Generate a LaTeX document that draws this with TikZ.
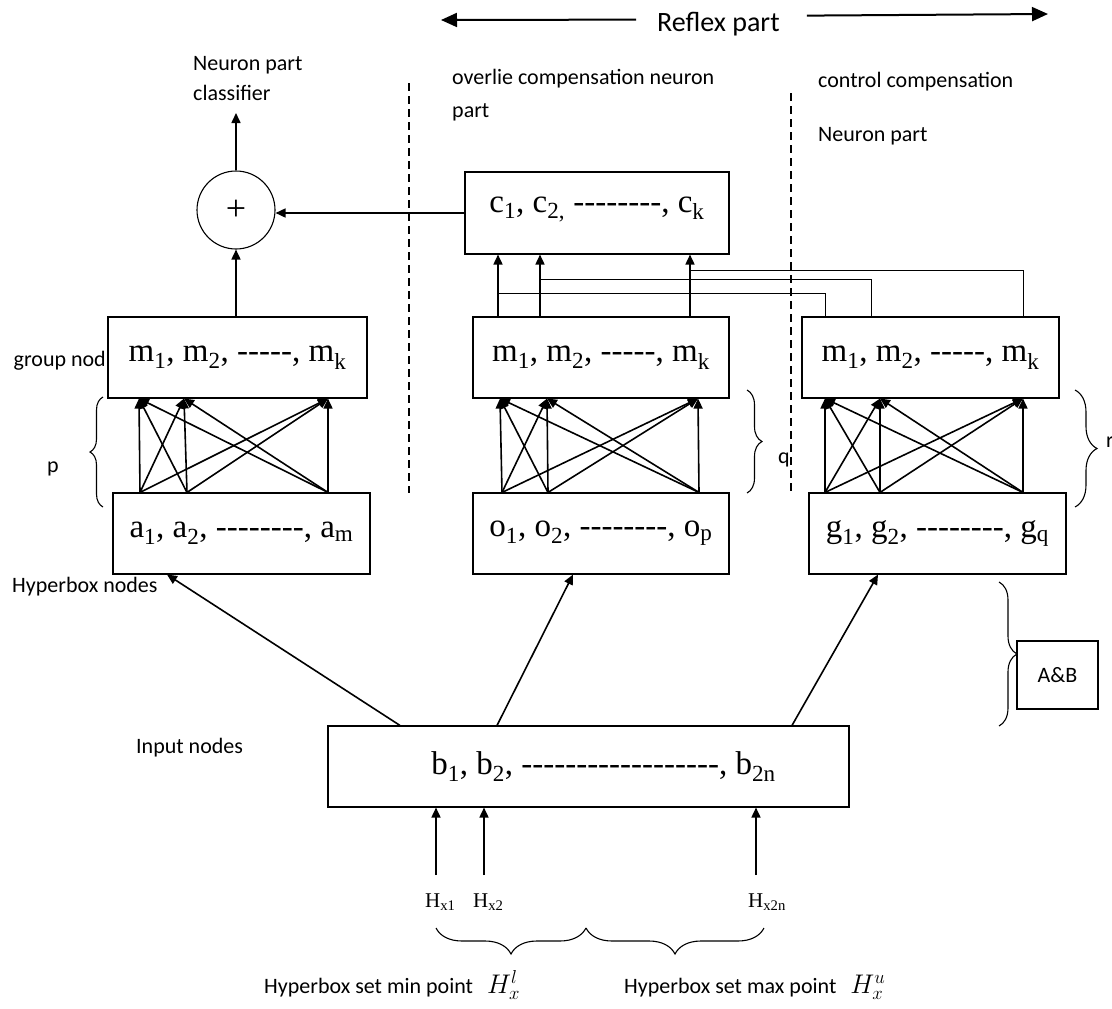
\documentclass[tikz,border=0pt]{standalone}
\usepackage{graphicx}
\usepackage{fontspec}
\setmainfont{Liberation Serif}
\newfontfamily\calib{Carlito}
\usetikzlibrary{arrows.meta, calc, decorations.pathreplacing}

\newcommand{\dashes}[1]{\foreach \k in {1,...,#1}{\mbox{-}}}

\begin{document}
\begin{tikzpicture}[x=1pt, y=-1pt,
  box/.style={draw, line width=1.1pt, inner sep=0pt, font=\fontsize{33}{38}\selectfont},
  lbl/.style={anchor=base west, inner sep=0pt, font=\calib\fontsize{22}{26}\selectfont},
  hlab/.style={anchor=base west, inner sep=0pt, font=\fontsize{21}{24}\selectfont},
  link/.style={-{Triangle[length=10pt,width=9pt]}, line width=1.6pt},
  bigarrow/.style={-{Triangle[length=16pt,width=14pt]}, line width=2pt},
  wire/.style={line width=1pt},
  brc/.style={decorate, decoration={brace, amplitude=#1}, line width=1.1pt},
  divider/.style={dash pattern=on 8pt off 5pt, line width=1.2pt}]
\useasboundingbox (0,0) rectangle (1112,1009);

% title
\node[lbl, font=\calib\fontsize{28}{32}\selectfont] (reflex) at (657,31) {Reflex part};
\coordinate (rfL) at (441,20);
\coordinate (rfR) at (1048,14);
\draw[bigarrow] ([xshift=-21pt,yshift=4pt]reflex.west) -- (rfL);
\draw[bigarrow] ([xshift=27pt,yshift=8pt]reflex.east) -- (rfR);

% part labels
\node[lbl] (npc1) at (193,70) {Neuron part};
\node[lbl] (npc2) at (193,100) {classifier};
\node[lbl] (ov1) at (452,84) {overlie compensation neuron};
\node[lbl] (ov2) at (452,117) {part};
\node[lbl] (cc1) at (818,87) {control compensation};
\node[lbl] (cc2) at (818,141) {Neuron part};
\draw[divider] (409,83) -- (409,493);
\draw[divider] (791,93) -- (791,493);

% boxes
\node[box, minimum width=259, minimum height=81] (mL) at (237.5,357.5) {m\textsubscript{1}, m\textsubscript{2}, \dashes{5}, m\textsubscript{k}};
\node[box, minimum width=257, minimum height=81] (aB) at (241.5,533.5) {a\textsubscript{1}, a\textsubscript{2}, \dashes{8}, a\textsubscript{m}};
\node[box, minimum width=256, minimum height=81] (mM) at (601,357.5) {m\textsubscript{1}, m\textsubscript{2}, \dashes{5}, m\textsubscript{k}};
\node[box, minimum width=256, minimum height=81] (oB) at (601,533.5) {o\textsubscript{1}, o\textsubscript{2}, \dashes{8}, o\textsubscript{p}};
\node[box, minimum width=257, minimum height=81] (mR) at (930.5,357.5) {m\textsubscript{1}, m\textsubscript{2}, \dashes{5}, m\textsubscript{k}};
\node[box, minimum width=257, minimum height=81] (gB) at (937.5,533.5) {g\textsubscript{1}, g\textsubscript{2}, \dashes{8}, g\textsubscript{q}};
\node[box, minimum width=264, minimum height=82, text height=14pt, text depth=16pt] (cB) at (597,213) {c\textsubscript{1}, c\textsubscript{2,} \dashes{8}, c\textsubscript{k}\hspace{20pt}};
\node[box, minimum width=521, minimum height=81] (bB) at (588.5,766.5) {\hspace{30pt}b\textsubscript{1}, b\textsubscript{2}, \dashes{18}, b\textsubscript{2n}};
\node[box, minimum width=81, minimum height=68, font=\calib\fontsize{22}{26}\selectfont] (AB) at (1057.5,675) {A\&B};
\node[draw, circle, minimum size=78, inner sep=0pt, line width=1.1pt, font=\fontsize{36}{40}\selectfont] (sum) at (236,210) {+};

% side labels
\node[lbl, anchor=base east] (grp) at (106,366) {group nod};
\node[lbl] (hyp) at (12,592) {Hyperbox nodes};
\node[lbl] (inp) at (136,753) {Input nodes};
\node[lbl] (pl) at (47,472) {p};
\node[lbl] (ql) at (778,463) {q};
\node[lbl] (rl) at (1106,447) {r};
\draw[brc=13] (103,507) -- (103,397);
\draw[brc=15] (747,390) -- (747,493);
\draw[brc=22] (1075,390) -- (1075,507);
\draw[brc=18] (999,582) -- (999,726);

% full connections between layers
\foreach \s in {140,187,328}
  \foreach \t in {139,184,328}
    \draw[link] (\s,0 |- aB.north) -- (\t,0 |- mL.south);
\foreach \s in {502,548,699}
  \foreach \t in {500,547,698}
    \draw[link] (\s,0 |- oB.north) -- (\t,0 |- mM.south);
\foreach \s in {825,880,1023}
  \foreach \t in {825,880,1023}
    \draw[link] (\s,0 |- gB.north) -- (\t,0 |- mR.south);

% compensation to c
\foreach \x in {498,540,690}
  \draw[link] (\x,0 |- mM.north) -- (\x,0 |- cB.south);
\draw[wire] (825,0 |- mR.north) |- (498,293);
\draw[wire] (871,0 |- mR.north) |- (540,279);
\draw[wire] (1023,0 |- mR.north) |- (690,270);

% sum
\coordinate (cls) at (236,113);
\draw[link] (sum |- mL.north) -- (sum.south);
\draw[link] (sum.north) -- (cls);
\draw[link] (cB.west) -- (cB.west -| sum.east);

% input layer
\draw[link] (400,0 |- bB.north) -- (167,0 |- aB.south);
\draw[link] (497,0 |- bB.north) -- (573,0 |- oB.south);
\draw[link] (792,0 |- bB.north) -- (878,0 |- gB.south);

% hyperbox points
\node[hlab] (hx1) at (425,907) {H\textsubscript{x1}};
\node[hlab] (hx2) at (473,907) {H\textsubscript{x2}};
\node[hlab] (hx3) at (748,907) {H\textsubscript{x2n}};
\coordinate (ih1) at (436,875);
\coordinate (ih2) at (484,875);
\coordinate (ih3) at (756,875);
\foreach \c in {ih1,ih2,ih3}
  \draw[link] (\c) -- (\c |- bB.south);
\draw[brc=26] (586,928) -- (436,928);
\draw[brc=26] (764,928) -- (586,928);
\node[lbl] (minl) at (264,993) {Hyperbox set min point\hspace{14pt}\scalebox{1.3}{$H_x^l$}};
\node[lbl] (maxl) at (624,993) {Hyperbox set max point\hspace{14pt}\scalebox{1.3}{$H_x^u$}};
\end{tikzpicture}
\end{document}
